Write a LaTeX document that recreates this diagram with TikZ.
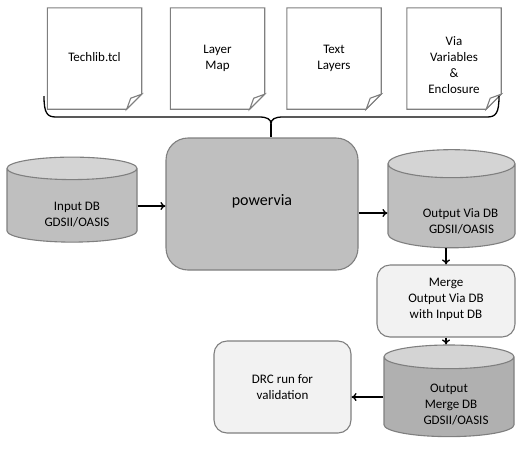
\documentclass[tikz,border=0pt]{standalone}
\usepackage{fontspec}
\setmainfont{Carlito}
\usetikzlibrary{shapes.geometric,arrows.meta,calc,backgrounds}
\definecolor{bordergray}{HTML}{7F7F7F}
\definecolor{midgray}{HTML}{BFBFBF}
\definecolor{endgray}{HTML}{D4D4D4}
\definecolor{darkgray2}{HTML}{B0B0B0}
\definecolor{lightbox}{HTML}{F2F2F2}
\tikzset{
  docnode/.style={rectangle, draw=none, minimum width=94pt, minimum height=101pt, align=center, font=\fontsize{13}{16}\selectfont},
  docline/.style={draw=bordergray, line width=1.1pt, fill=white},
  foldline/.style={draw=bordergray, line width=1.1pt, fill=white},
  dbnode/.style={cylinder, shape border rotate=90, aspect=0.3, draw=bordergray, line width=1.1pt,
     cylinder uses custom fill, cylinder body fill=midgray, cylinder end fill=endgray,
     align=center, font=\fontsize{13}{16}\selectfont, inner sep=0pt},
  procbox/.style={rectangle, rounded corners=22pt, draw=bordergray, line width=1.1pt, fill=midgray, align=center},
  lightproc/.style={rectangle, rounded corners=13pt, draw=bordergray, line width=1.1pt, fill=lightbox, align=center, font=\fontsize{13}{16}\selectfont},
  conn/.style={draw=black, line width=1.3pt, -{To[length=5pt,width=8pt]}},
  bracestyle/.style={draw=black, line width=1.3pt}
}
\begin{document}
\begin{tikzpicture}[x=1pt,y=-1pt]
\useasboundingbox (0,0) rectangle (526,448);
% documents
\node[docnode] (d1) at (94.5,58.5) {Techlib.tcl\\[-12pt]\mbox{}};
\node[docnode] (d2) at (217.5,58.5) {Layer\\Map\\[-14pt]\mbox{}};
\node[docnode] (d3) at (334,58.5) {Text\\Layers\\[-14pt]\mbox{}};
\node[docnode] (d4) at (454,58.5) {\mbox{}\\[7pt]Via\\Variables\\\&\\Enclosure};
\begin{scope}[on background layer]
\foreach \d in {d1,d2,d3,d4}{
  \path[docline] (\d.north west) -- (\d.north east) -- ($(\d.south east)+(0,-15)$) -- ($(\d.south east)+(-15,0)$) -- (\d.south west) -- cycle;
  \path[foldline] ($(\d.south east)+(0,-15)$) -- ($(\d.south east)+(-15,0)$) .. controls ($(\d.south east)+(-13,-6)$) .. ($(\d.south east)+(-11,-11)$) -- cycle;
}
\end{scope}
% brace
\coordinate (bl) at (44,96);
\coordinate (br) at (499,96);
\coordinate (tip) at (271,124);
\draw[bracestyle] (bl) .. controls (44,113) and (47,117) .. (56,117) -- (259,117) .. controls (267,117) and (271,119) .. (tip)
  .. controls (271,119) and (275,117) .. (283,117) -- (487,117) .. controls (496,117) and (499,113) .. (br);
% main process
\node[procbox, minimum width=192pt, minimum height=132pt, font=\fontsize{16}{19}\selectfont] (pv) at (262,204) {powervia\\[-10pt]\mbox{}};
\draw[bracestyle] (tip) -- (tip |- pv.north);
% databases
\node[dbnode, minimum width=130pt, minimum height=85pt] (in) at (72,205.5) {\mbox{}\\[11pt]\hspace*{10pt}Input DB\\\hspace*{10pt}GDSII/OASIS};
\node[dbnode, minimum width=127pt, minimum height=82pt] (out) at (451.5,206) {\mbox{}\\[23pt]\hspace*{18pt}Output Via DB\\\hspace*{20pt}GDSII/OASIS};
\node[lightproc, minimum width=138pt, minimum height=72pt] (merge) at (446,301) {\mbox{}\\[-11pt]Merge\\Output Via DB\\with Input DB};
\node[dbnode, cylinder body fill=darkgray2, minimum width=130pt, minimum height=86pt] (mdb) at (449,397) {\mbox{}\\[7pt]Output\\\hspace*{4pt}Merge DB\\\hspace*{14pt}GDSII/OASIS};
\node[lightproc, minimum width=137pt, minimum height=92pt] (drc) at (282.5,387) {DRC run for\\validation};
% connectors
\draw[conn] (in.east |- 0,206) -- (pv.west |- 0,206);
\draw[conn] (pv.east |- 0,213) -- (out.west |- 0,213);
\draw[conn] (out.south -| merge.north) -- (merge.north);
\draw[conn] (merge.south) -- (mdb.north -| merge.south);
\draw[conn] (mdb.west |- 0,397) -- (drc.east |- 0,397);
\end{tikzpicture}
\end{document}
